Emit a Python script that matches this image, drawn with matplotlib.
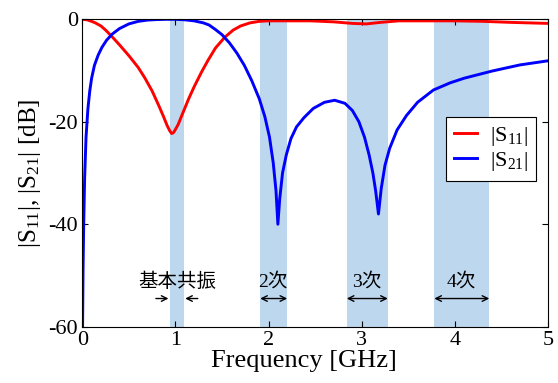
import matplotlib
matplotlib.use('Agg')
import matplotlib.pyplot as plt
import numpy as np

plt.rcParams['font.family'] = ['Liberation Serif', 'Noto Sans CJK JP']
plt.rcParams['mathtext.fontset'] = 'custom'
plt.rcParams['mathtext.rm'] = 'Liberation Serif'
plt.rcParams['mathtext.it'] = 'Liberation Serif:italic'

# |S11| (GHz, dB)
f11 = [0, 0.05, 0.1, 0.14, 0.2, 0.25, 0.32, 0.4, 0.5, 0.6, 0.67, 0.75, 0.82, 0.87,
       0.91, 0.94, 0.96, 0.98, 1.0, 1.03, 1.07, 1.14, 1.2, 1.28, 1.35, 1.43, 1.53,
       1.62, 1.7, 1.8, 1.9, 2.0, 2.2, 2.45, 2.7, 2.9, 3.05, 3.2, 3.4, 3.7, 4.0,
       4.3, 4.6, 5.0]
s11 = [0, -0.1, -0.4, -0.7, -1.3, -2.1, -3.4, -5.0, -7.1, -9.4, -11.4, -14.0, -16.8,
       -18.9, -20.7, -21.8, -22.3, -22.1, -21.5, -20.5, -18.7, -15.6, -13.2, -10.3,
       -8.0, -5.6, -3.5, -2.1, -1.3, -0.7, -0.4, -0.3, -0.3, -0.3, -0.5, -0.8, -0.9,
       -0.6, -0.3, -0.3, -0.3, -0.4, -0.6, -0.8]

# |S21|
f21 = [0.003, 0.008, 0.015, 0.025, 0.04, 0.06, 0.08, 0.1, 0.13, 0.17, 0.21, 0.26,
       0.32, 0.4, 0.5, 0.6, 0.7, 0.8, 0.9, 1.0, 1.1, 1.2, 1.3, 1.36, 1.43, 1.5,
       1.58, 1.66, 1.74, 1.82, 1.9, 1.96, 2.01, 2.05, 2.08, 2.1, 2.12, 2.15, 2.19,
       2.24, 2.3, 2.38, 2.48, 2.6, 2.71, 2.82, 2.9, 2.97, 3.03, 3.08, 3.12, 3.15,
       3.18, 3.21, 3.25, 3.3, 3.38, 3.48, 3.6, 3.77, 3.95, 4.1, 4.4, 4.7, 5.0]
s21 = [-60, -49, -40, -31, -23, -17.5, -14.0, -11.5, -9.0, -7.0, -5.5, -4.1,
       -2.9, -1.8, -0.9, -0.4, -0.15, -0.05, 0, 0, -0.1, -0.3, -0.7, -1.1, -2.0, -3.0,
       -4.6, -6.6, -9.0, -12.0, -15.5, -19.0, -23.0, -28.0, -33.5, -40.0, -35.0,
       -30.0, -26.5, -23.3, -21.0, -19.2, -17.4, -16.2, -15.8, -16.4, -17.8, -20.0,
       -23.0, -26.5, -30.0, -33.5, -38.0, -33.0, -28.5, -25.2, -21.6, -18.8, -16.2,
       -13.8, -12.4, -11.5, -10.1, -8.9, -8.1]

# shaded resonance bands (GHz) and their labels
band_lo = [0.94, 1.91, 2.84, 3.78]
band_hi = [1.09, 2.20, 3.28, 4.37]
band_txt = ['基本共振', '2次', '3次', '4次']
band_txt_x = [1.02, 2.05, 3.05, 4.07]

fig = plt.figure(figsize=(5.58, 3.83), dpi=100)
ax = fig.add_axes([0.1475, 0.147, 0.8345, 0.8026])

for lo, hi in zip(band_lo, band_hi):
    ax.axvspan(lo, hi, color='#bdd7ee', lw=0, zorder=0)

ax.plot(f11, s11, color='red', lw=2.1, label=r'|S$_{11}$|')
ax.plot(f21, s21, color='blue', lw=2.1, label=r'|S$_{21}$|')

y_txt = -51.3
y_arr = -54.5
for i in range(len(band_lo)):
    ax.text(band_txt_x[i], y_txt, band_txt[i], ha='center', va='center', fontsize=14,
            family=['Liberation Serif', 'Noto Sans CJK JP'])
    if i == 0:
        ax.annotate('', xy=(band_lo[i], y_arr), xytext=(band_lo[i] - 0.15, y_arr),
                    arrowprops=dict(arrowstyle='->', color='k', lw=1.0,
                                    shrinkA=0, shrinkB=1))
        ax.annotate('', xy=(band_hi[i], y_arr), xytext=(band_hi[i] + 0.15, y_arr),
                    arrowprops=dict(arrowstyle='->', color='k', lw=1.0,
                                    shrinkA=0, shrinkB=1))
    else:
        ax.annotate('', xy=(band_lo[i], y_arr), xytext=(band_hi[i], y_arr),
                    arrowprops=dict(arrowstyle='<->', color='k', lw=1.0,
                                    shrinkA=0, shrinkB=0))

ax.set_xlim(0, 5)
ax.set_ylim(-60, 0)
ax.set_xticks([0, 1, 2, 3, 4, 5])
ax.set_yticks([0, -20, -40, -60])
ax.set_yticklabels(['0', '-20', '-40', '-60'])
ax.tick_params(direction='in', top=True, right=True, labelsize=16, length=4, pad=3)
ax.set_xlabel('Frequency [GHz]', fontsize=19)
ax.xaxis.set_label_coords(0.477, -0.075)
ax.set_ylabel(r'|S$_{11}$|, |S$_{21}$| [dB]', fontsize=18)
ax.yaxis.set_label_coords(-0.084, 0.5)

leg = ax.legend(loc='upper right', bbox_to_anchor=(0.974, 0.682), fontsize=16,
                fancybox=False, edgecolor='k', framealpha=1, handlelength=1.05,
                handletextpad=0.6, borderpad=0.35, labelspacing=0.1, borderaxespad=0)
leg.get_frame().set_linewidth(0.8)

fig.savefig('out.png', dpi=100)
